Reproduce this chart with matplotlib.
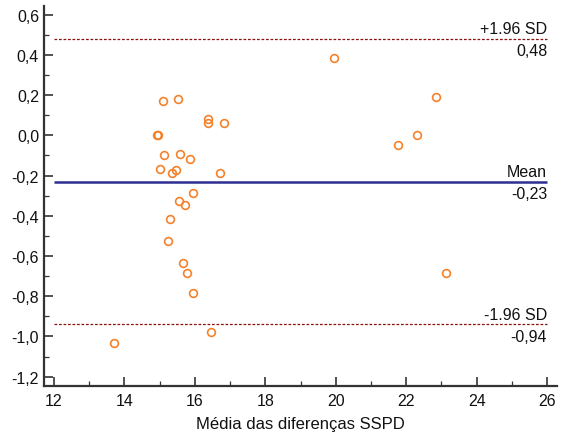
import matplotlib
matplotlib.use("Agg")
import matplotlib.pyplot as plt
from matplotlib.ticker import MultipleLocator, FuncFormatter

plt.rcParams['font.family'] = ['Liberation Sans', 'DejaVu Sans']

mean_x = [19.95, 22.84, 22.30, 21.76, 23.12, 15.11, 15.51, 16.37, 16.37, 16.83,
          14.93, 14.96, 15.14, 15.59, 15.85, 15.02, 15.46, 15.34, 16.72, 15.95,
          15.54, 15.71, 15.31, 15.25, 15.66, 15.77, 15.95, 16.46, 13.70]
diff_y = [0.386, 0.191, 0.0, -0.05, -0.683, 0.169, 0.181, 0.082, 0.06, 0.062,
          0.0, 0.003, -0.096, -0.094, -0.116, -0.166, -0.174, -0.186, -0.186, -0.287,
          -0.326, -0.346, -0.418, -0.524, -0.633, -0.683, -0.784, -0.98, -1.03]

mean_val = -0.23
upper_val = 0.48
lower_val = -0.94
upper_label = "+1.96 SD"
mean_label = "Mean"
lower_label = "-1.96 SD"
xlabel = "Média das diferenças SSPD"

fig = plt.figure(figsize=(5.69, 4.39), dpi=100)
ax = fig.add_axes([0.0773, 0.1185, 0.9017, 0.8655])

x0, x1 = 12, 26
ax.hlines(mean_val, x0, x1, color='#2e2e91', lw=1.8, zorder=2)
ax.hlines([upper_val, lower_val], x0, x1, color='#8b1010', lw=0.9,
          linestyles=(0, (2.2, 1.4)), zorder=2)

ax.plot(mean_x, diff_y, linestyle='none', marker='o', markersize=5.6,
        markerfacecolor='none', markeredgecolor='#f5822a', markeredgewidth=1.2, zorder=3)

def fmt(v):
    return f"{v:.2f}".replace('.', ',')

for val, lab in [(upper_val, upper_label), (mean_val, mean_label), (lower_val, lower_label)]:
    ax.annotate(lab, (x1, val), xytext=(0, 2.0), textcoords='offset points',
                ha='right', va='bottom', fontsize=11.5, color='#111111')
    ax.annotate(fmt(val), (x1, val), xytext=(0, -3), textcoords='offset points',
                ha='right', va='top', fontsize=11.5, color='#111111')

ax.set_xlim(11.72, 26.28)
ax.set_ylim(-1.246, 0.643)
ax.xaxis.set_major_locator(MultipleLocator(2))
ax.xaxis.set_minor_locator(MultipleLocator(1))
ax.yaxis.set_major_locator(MultipleLocator(0.2))
ax.yaxis.set_minor_locator(MultipleLocator(0.1))
ax.yaxis.set_major_formatter(FuncFormatter(lambda v, p: f"{v:.1f}".replace('.', ',').replace('-0,0', '0,0')))

for s in ['top', 'right']:
    ax.spines[s].set_visible(False)
for s in ['left', 'bottom']:
    ax.spines[s].set_linewidth(1.6)
    ax.spines[s].set_color('#333333')

ax.tick_params(which='major', direction='in', length=6.5, width=1.2, color='#333333',
               labelsize=11.5, labelcolor='#111111', pad=3.5)
ax.tick_params(axis='x', which='major', pad=5)
ax.tick_params(which='minor', direction='in', length=3.5, width=0.9, color='#333333')

ax.set_xlabel(xlabel, fontsize=12, color='#111111', labelpad=6)

fig.savefig("out.png", dpi=100)
